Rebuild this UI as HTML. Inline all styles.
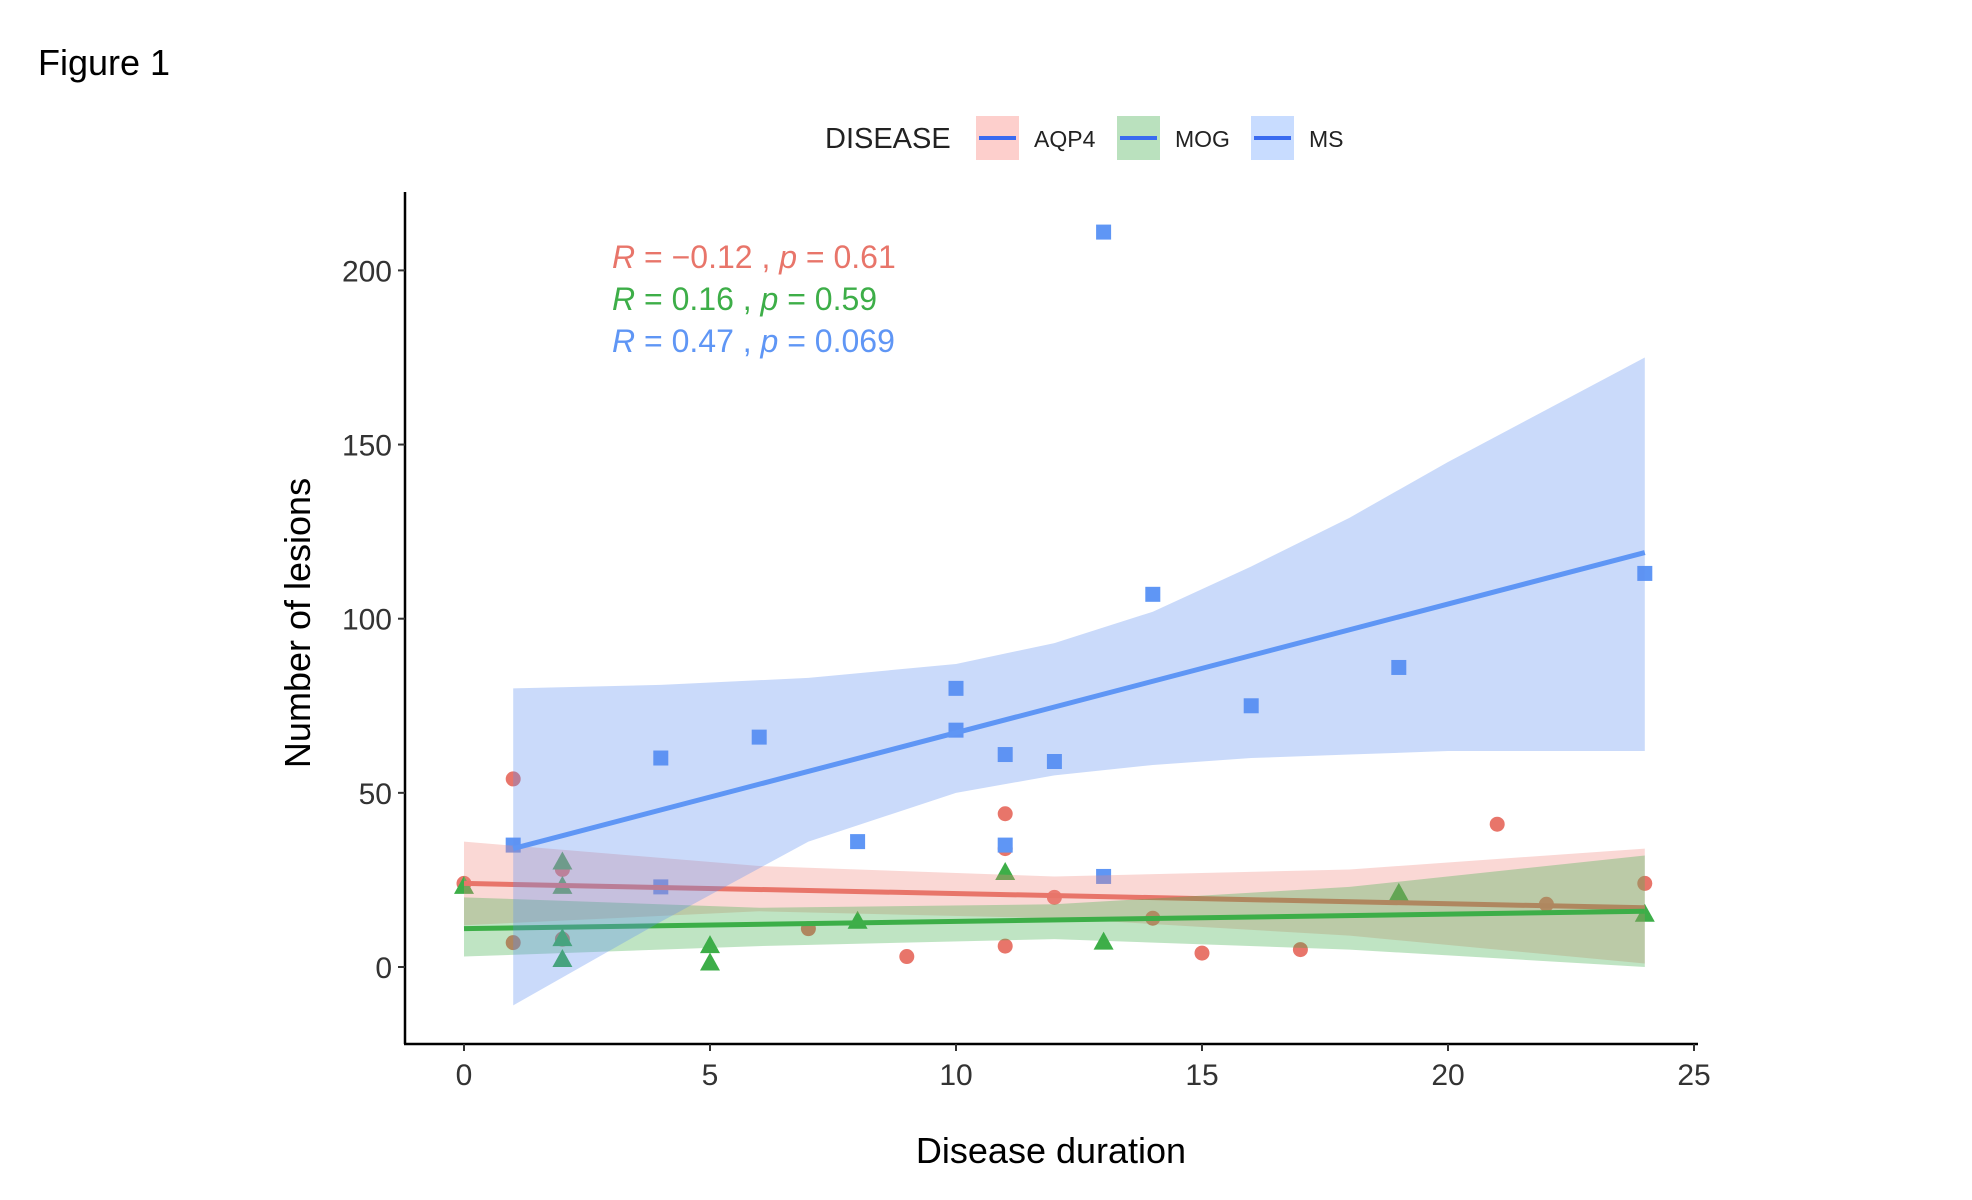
<!DOCTYPE html>
<html><head><meta charset="utf-8"><style>
html,body{margin:0;padding:0;background:#fff;}
svg{display:block;font-family:"Liberation Sans",sans-serif;}
</style></head><body>
<svg id="chart" width="1972" height="1200" viewBox="0 0 1972 1200" xmlns="http://www.w3.org/2000/svg">
<text x="38" y="75" font-size="36" fill="#000">Figure 1</text>
<g>
<text x="825" y="148" font-size="29" fill="#222">DISEASE</text>
<g><rect x="976" y="116" width="43" height="44" fill="#F8766D" opacity="0.35"/><line x1="979" y1="138" x2="1016" y2="138" stroke="#3a6bf0" stroke-width="4"/><text x="1034" y="147" font-size="23" fill="#222">AQP4</text></g>
<g><rect x="1117" y="116" width="43" height="44" fill="#3aaa46" opacity="0.35"/><line x1="1120" y1="138" x2="1157" y2="138" stroke="#3a6bf0" stroke-width="4"/><text x="1175" y="147" font-size="23" fill="#222">MOG</text></g>
<g><rect x="1251" y="116" width="43" height="44" fill="#619CFF" opacity="0.35"/><line x1="1254" y1="138" x2="1291" y2="138" stroke="#3a6bf0" stroke-width="4"/><text x="1309" y="147" font-size="23" fill="#222">MS</text></g>
</g>
<g id="plot"></g>
<text transform="translate(310,623) rotate(-90)" text-anchor="middle" font-size="36" fill="#000">Number of lesions</text>
<text x="1051" y="1163" text-anchor="middle" font-size="36" fill="#000">Disease duration</text>
</svg>
<script>
const xTicks=[0,5,10,15,20,25];
const yTicks=[0,50,100,150,200];
const msX=[1,4,4,6,8,10,10,11,11,12,13,13,14,16,19,24];
const msY=[35,60,23,66,36,80,68,61,35,59,211,26,107,75,86,113];
const aqp4X=[0,1,1,2,2,7,9,11,11,11,12,14,15,17,21,22,24];
const aqp4Y=[24,54,7,28,8,11,3,44,34,6,20,14,4,5,41,18,24];
const mogX=[0,2,2,2,2,5,5,8,11,13,19,24];
const mogY=[23,30,23,8,2,6,1,13,27,7,21,15];
const fitX=[[0,24],[0,24],[1,24]];
const aqp4Fit=[24,17];
const mogFit=[11,16];
const msFit=[34,119];
const aqp4BandX=[0,6,12,18,24];
const aqp4Upper=[36,29,26,28,34];
const aqp4Lower=[12,16,14,9,1];
const mogBandX=[0,6,12,18,24];
const mogUpper=[20,17,18,23,32];
const mogLower=[3,6,8,5,0];
const msBandX=[1,4,7,10,12,14,16,18,20,22,24];
const msUpper=[80,81,83,87,93,102,115,129,145,160,175];
const msLower=[-11,13,36,50,55,58,60,61,62,62,62];
const corrLabels=["R = \u22120.12 , p = 0.61","R = 0.16 , p = 0.59","R = 0.47 , p = 0.069"];

const NS="http://www.w3.org/2000/svg";
const xs=v=>464+v*(1694-464)/25;
const ys=v=>967-v*(967-270.4)/200;
const g=document.getElementById('plot');
function mk(t,a,parent){const e=document.createElementNS(NS,t);for(const k in a)e.setAttribute(k,a[k]);(parent||g).appendChild(e);return e;}

const ax=mk('line',{x1:405,y1:192,x2:405,y2:1044,stroke:'#000','stroke-width':2.5});


const bx=mk('line',{x1:404,y1:1044,x2:1698,y2:1044,stroke:'#000','stroke-width':2.5});


xTicks.forEach(t=>{
  mk('line',{x1:xs(t),y1:1044,x2:xs(t),y2:1051,stroke:'#333','stroke-width':2});
  const tx=mk('text',{x:xs(t),y:1085,'text-anchor':'middle','font-size':30,fill:'#333'});
  tx.textContent=t;
  
  
});
yTicks.forEach(t=>{
  mk('line',{x1:398,y1:ys(t),x2:405,y2:ys(t),stroke:'#333','stroke-width':2});
  const tx=mk('text',{x:392,y:ys(t)+11,'text-anchor':'end','font-size':30,fill:'#333'});
  tx.textContent=t;
  
  
});

const series=[
 {name:'aqp4',col:'#E8756A',band:'#F08A80',x:aqp4X,y:aqp4Y,shape:'circle',fx:fitX[0],fy:aqp4Fit,bx:aqp4BandX,bu:aqp4Upper,bl:aqp4Lower},
 {name:'mog',col:'#3DAE48',band:'#3DAE48',x:mogX,y:mogY,shape:'tri',fx:fitX[1],fy:mogFit,bx:mogBandX,bu:mogUpper,bl:mogLower},
 {name:'ms',col:'#5F96F5',band:'#5F8FF0',x:msX,y:msY,shape:'sq',fx:fitX[2],fy:msFit,bx:msBandX,bu:msUpper,bl:msLower}
];
series.forEach(s=>{
  s.x.forEach((xv,i)=>{
    const cx=xs(xv),cy=ys(s.y[i]);let p;
    if(s.shape==='circle')p=mk('circle',{cx:cx,cy:cy,r:7.5,fill:s.col});
    else if(s.shape==='sq')p=mk('rect',{x:cx-7.5,y:cy-7.5,width:15,height:15,fill:s.col});
    else p=mk('polygon',{points:`${cx},${cy-11} ${cx-10},${cy+7} ${cx+10},${cy+7}`,fill:s.col});
    
    
  });
});
series.forEach(s=>{
  let d='M'+s.bx.map((v,i)=>xs(v)+','+ys(s.bu[i])).join(' L');
  d+=' L'+s.bx.slice().reverse().map((v,i)=>{const j=s.bx.length-1-i;return xs(v)+','+ys(s.bl[j]);}).join(' L')+'Z';
  const b=mk('path',{d:d,fill:s.band,opacity:0.33,'stroke-linejoin':'round'});
  
  
  const l=mk('line',{x1:xs(s.fx[0]),y1:ys(s.fy[0]),x2:xs(s.fx[1]),y2:ys(s.fy[1]),stroke:s.col,'stroke-width':5});
  
  
});
const cc=['#E8756A','#3DAE48','#5F96F5'];
corrLabels.forEach((txt,i)=>{
  const t=mk('text',{x:612,y:268+i*42,'font-size':32,fill:cc[i]});
  const parts=txt.split(/(R|p)/);
  parts.forEach(pt=>{if(!pt)return;const sp=document.createElementNS(NS,'tspan');sp.textContent=pt;if(pt==='R'||pt==='p')sp.setAttribute('font-style','italic');t.appendChild(sp);});
  
  
});
</script>
</body></html>
